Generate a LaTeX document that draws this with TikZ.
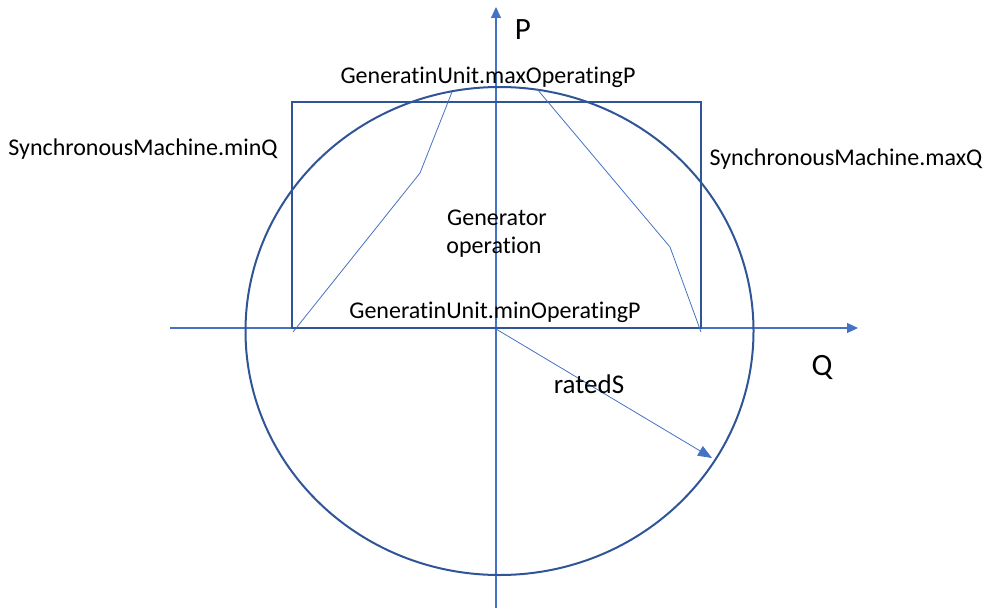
\documentclass[tikz,border=0pt]{standalone}
\usepackage{fontspec}
\setmainfont[Ligatures={NoCommon}]{Carlito}
\usetikzlibrary{arrows.meta}
\definecolor{axisblue}{HTML}{4472C4}
\definecolor{darkblue}{HTML}{2F5597}
\begin{document}
\begin{tikzpicture}[x=1pt,y=-1pt,
  axis/.style={axisblue,line width=1.1pt,-{Triangle[length=11pt,width=10pt]}},
  thin/.style={axisblue,line width=0.8pt},
  frame/.style={darkblue,line width=2pt},
  lbl/.style={font=\fontsize{24}{28}\selectfont,inner sep=0pt,anchor=base},
  big/.style={font=\fontsize{31}{36}\selectfont,inner sep=0pt,anchor=base}]
\useasboundingbox (0,0) rectangle (990,610);
% axes
\coordinate (pbot) at (496,608);
\coordinate (ptop) at (496,7);
\coordinate (qleft) at (170,328);
\coordinate (qright) at (858,328);
\draw[axis] (pbot) -- (ptop);
\draw[axis] (qleft) -- (qright);
% circle and rectangle
\draw[frame] (499.5,331) ellipse [x radius=254, y radius=244];
\draw[frame] (292,102) rectangle (701,328);
% capability curves
\coordinate (l1) at (293,332);
\coordinate (l2) at (420,173);
\coordinate (l3) at (452,92);
\coordinate (r1) at (537,89);
\coordinate (r2) at (670,247);
\coordinate (r3) at (701,332);
\draw[thin] (l1) -- (l2) -- (l3);
\draw[thin] (r1) -- (r2) -- (r3);
% ratedS
\coordinate (o) at (496,329);
\coordinate (s) at (712,458);
\draw[thin,-{Triangle[length=14pt,width=11pt]}] (o) -- (s);
% labels
\node[big] (P) at (523,40) {P};
\node[big] (Q) at (822,375) {Q};
\node[lbl] (maxP) at (488,83) {GeneratinUnit.maxOperatingP};
\node[lbl] (minP) at (495,318) {GeneratinUnit.minOperatingP};
\node[lbl] (minQ) at (143,155) {SynchronousMachine.minQ};
\node[lbl] (maxQ) at (846,165) {SynchronousMachine.maxQ};
\node[lbl] (gen1) at (497,225) {Generator};
\node[lbl] (gen2) at (494,253) {operation};
\node[lbl,font=\fontsize{27}{32}\selectfont] (rs) at (589,393) {ratedS};
\end{tikzpicture}
\end{document}
